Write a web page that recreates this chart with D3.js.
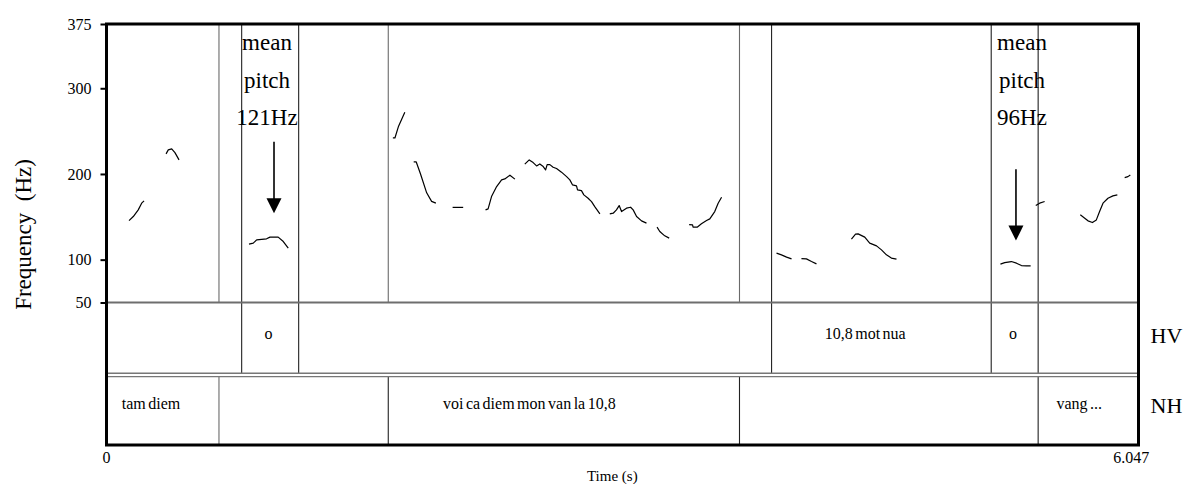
<!DOCTYPE html>
<html>
<head>
<meta charset="utf-8">
<script src="https://cdn.jsdelivr.net/npm/d3@7"></script>
<style>
  html, body { margin: 0; padding: 0; background: #fff; }
  svg { display: block; }
</style>
</head>
<body>
<svg id="chart" width="1187" height="484"></svg>
<script>
// ---------------- DATA ----------------
const timeDomain = [0, 6.047];
const freqDomain = [50, 375];
const freqTicks = [50, 100, 200, 300, 375];
const timeTickLabels = ["0", "6.047"];

// pitch contour fragments: [time (s), F0 (Hz)]
const contour1 = [[0.132,145.6],[0.157,150.3],[0.186,158.1],[0.206,165.9],[0.220,168.6]];
const contour2 = [[0.349,223.4],[0.362,228.1],[0.382,229.2],[0.401,224.9],[0.425,216.4]];
const contour3 = [[0.835,118.1],[0.860,119.3],[0.880,123.1],[0.938,124.3],[0.958,126.3],[1.006,126.3],[1.036,121.1],[1.065,113.4]];
const contour4 = [[1.678,242],[1.690,242],[1.710,255],[1.748,272]];
const contour5 = [[1.800,214],[1.815,214],[1.840,200],[1.876,178],[1.905,168],[1.930,166]];
const contour6 = [[2.028,161],[2.090,161]];
const contour7 = [[2.221,158.1],[2.236,159.3],[2.256,173.6],[2.286,185.3],[2.315,193.1],[2.334,194.2],[2.364,198.6],[2.393,194.0]];
const contour8 = [[2.451,211.4],[2.477,216.4],[2.500,213.3],[2.520,209.4],[2.539,211.7],[2.559,208.6],[2.573,204.7],[2.582,210.9],[2.598,210.9],[2.617,207.9],[2.637,206.3],[2.666,202.1],[2.696,196.9],[2.715,193.1],[2.731,187.2],[2.754,186.1],[2.760,181.4],[2.783,180.6],[2.797,175.6],[2.822,171.7],[2.842,167.8],[2.861,161.9],[2.891,153.4]];
const contour9 = [[2.949,153.4],[2.969,154.2],[2.988,158.1],[3.004,163.1],[3.018,156.1],[3.047,160.1],[3.071,161.2],[3.086,158.1],[3.106,150.3],[3.135,145.3],[3.164,142.6]];
const contour10 = [[3.226,137.9],[3.242,132.8],[3.271,127.8],[3.297,125.1]];
const contour11 = [[3.414,140.9],[3.434,140.6],[3.437,137.9],[3.461,137.9],[3.486,141.8],[3.516,145.6],[3.535,147.6],[3.564,156.1],[3.584,165.9],[3.604,172.9]];
const contour12 = [[3.926,107.6],[3.955,105.6],[3.985,102.9],[4.014,100.9]];
const contour13 = [[4.072,101.3],[4.101,100.9],[4.131,97.8],[4.160,95.1]];
const contour14 = [[4.365,123.9],[4.389,129.7],[4.404,130.1],[4.443,126.3],[4.472,119.3],[4.512,116.1],[4.541,111.4],[4.570,105.6],[4.599,101.8],[4.629,100.6]];
const contour15 = [[5.238,94.8],[5.263,96.6],[5.302,97.8],[5.332,95.9],[5.361,93.1],[5.390,92.8],[5.415,92.8]];
const contour16 = [[5.445,163.1],[5.468,165.9],[5.497,167.8]];
const contour17 = [[5.706,152.3],[5.732,148.4],[5.751,145.3],[5.777,143.3],[5.800,146.4],[5.819,156.1],[5.839,165.9],[5.868,171.7],[5.897,174.4],[5.923,175.6]];
const contour18 = [[5.966,195.8],[5.985,196.9],[5.999,198.9]];
const contours = [contour1, contour2, contour3, contour4, contour5, contour6, contour7, contour8, contour9,
                  contour10, contour11, contour12, contour13, contour14, contour15, contour16, contour17, contour18];

// annotation tiers (interval boundaries in s, and one label per interval)
const hvTierName = "HV";
const hvBounds = [0, 0.792, 1.126, 3.897, 5.184, 5.459, 6.047];
const hvLabels = ["", "o", "", "10,8 mot nua", "o", ""];
const nhTierName = "NH";
const nhBounds = [0, 0.659, 1.651, 3.709, 5.459, 6.047];
const nhLabels = ["tam diem", "", "voi ca diem mon van la 10,8", "", "vang ..."];

// mean-pitch call-outs
const calloutTimes = [0.9405, 5.3645];
const calloutLines = [["mean", "pitch", "121Hz"], ["mean", "pitch", "96Hz"]];
const arrowTimes = [0.9815, 5.329];
const arrowFromHz = [237.7, 205.6];
const arrowToHz = [154.2, 122.3];

const yTitle = "Frequency  (Hz)";
const xTitle = "Time (s)";

// ---------------- LAYOUT ----------------
const FONT = "'Liberation Serif', 'DejaVu Serif', serif";
const L = 106.5, R = 1138.5, T = 24, P = 302.5, HVB = 373.3, NHT = 376.6, B = 445;
const svg = d3.select("#chart").attr("font-family", FONT).style("font-family", FONT);

const x = d3.scaleLinear().domain(timeDomain).range([L, R]);
const y = d3.scaleLinear().domain(freqDomain).range([P, T]);

function txt(parent) {
  return parent.append("text").style("font-family", FONT).attr("fill", "#000");
}

// inner boundaries
const hvInner = hvBounds.slice(1, -1);
const nhInner = nhBounds.slice(1, -1);
const allInner = Array.from(new Set(hvInner.concat(nhInner))).sort((a, b) => a - b);

// boundaries in pitch area
svg.append("g").selectAll("line").data(allInner).join("line")
  .attr("x1", d => x(d)).attr("x2", d => x(d))
  .attr("y1", T).attr("y2", P)
  .attr("stroke", d => nhInner.includes(d) && !hvInner.includes(d) ? "#6a6a6a" : "#222")
  .attr("stroke-width", 1.1);

// HV tier boundaries
svg.append("g").selectAll("line").data(hvInner).join("line")
  .attr("x1", d => x(d)).attr("x2", d => x(d))
  .attr("y1", P).attr("y2", HVB)
  .attr("stroke", "#222").attr("stroke-width", 1.1);

// NH tier boundaries
svg.append("g").selectAll("line").data(nhInner).join("line")
  .attr("x1", d => x(d)).attr("x2", d => x(d))
  .attr("y1", NHT).attr("y2", B)
  .attr("stroke", d => d === nhInner[0] ? "#6a6a6a" : "#222")
  .attr("stroke-width", 1.1);

// horizontal separators
svg.append("line").attr("x1", L).attr("x2", R).attr("y1", P).attr("y2", P)
  .attr("stroke", "#6e6e6e").attr("stroke-width", 2);
svg.append("line").attr("x1", L).attr("x2", R).attr("y1", HVB).attr("y2", HVB)
  .attr("stroke", "#777").attr("stroke-width", 1.4);
svg.append("line").attr("x1", L).attr("x2", R).attr("y1", NHT).attr("y2", NHT)
  .attr("stroke", "#777").attr("stroke-width", 1.4);

// pitch contours
const line = d3.line().x(d => x(d[0])).y(d => y(d[1]));
svg.append("g").selectAll("path").data(contours).join("path")
  .attr("d", line)
  .attr("fill", "none").attr("stroke", "#000").attr("stroke-width", 1.2)
  .attr("stroke-linejoin", "round");

// frame
svg.append("rect").attr("x", L).attr("y", T).attr("width", R - L).attr("height", B - T)
  .attr("fill", "none").attr("stroke", "#000").attr("stroke-width", 3);

// y axis
const yAxis = svg.append("g").attr("transform", `translate(${L},0)`)
  .call(d3.axisLeft(y).tickValues(freqTicks).tickSize(6).tickPadding(9).tickFormat(d3.format("d")));
yAxis.attr("font-family", null).attr("font-size", null);
yAxis.select(".domain").remove();
yAxis.selectAll(".tick line").attr("stroke", "#000").attr("stroke-width", 2);
yAxis.selectAll(".tick text").style("font-family", FONT).style("font-size", "16px").attr("fill", "#000");

// helper: label placed slightly left of centre (as in the reference rendering)
function shiftedLabel(sel, cx) {
  sel.attr("text-anchor", "start");
  const w = sel.node().getComputedTextLength();
  sel.attr("x", cx - 0.7 * w);
}

// tier labels
hvLabels.forEach((lab, i) => {
  if (!lab) return;
  const cx = (x(hvBounds[i]) + x(hvBounds[i + 1])) / 2;
  const t = txt(svg).attr("y", 339).style("font-size", "16px")
    .style("word-spacing", "-1.5px").text(lab);
  shiftedLabel(t, cx);
});
nhLabels.forEach((lab, i) => {
  if (!lab) return;
  const cx = (x(nhBounds[i]) + x(nhBounds[i + 1])) / 2;
  const t = txt(svg).attr("y", 409).style("font-size", "16px")
    .style("word-spacing", "-1.5px").text(lab);
  shiftedLabel(t, cx);
});
txt(svg).attr("x", R + 12).attr("y", 343).style("font-size", "22px").text(hvTierName);
txt(svg).attr("x", R + 12).attr("y", 413).style("font-size", "22px").text(nhTierName);

// time labels
txt(svg).attr("x", x(timeDomain[0])).attr("y", 463).attr("text-anchor", "middle")
  .style("font-size", "16px").text(timeTickLabels[0]);
const endLab = txt(svg).attr("y", 463).style("font-size", "16px").text(timeTickLabels[1]);
shiftedLabel(endLab, x(timeDomain[1]));
const xt = txt(svg).attr("y", 481).style("font-size", "15px").text(xTitle);
shiftedLabel(xt, (L + R) / 2);

// y title
txt(svg).attr("transform", `translate(31,${(T + B) / 2}) rotate(-90)`)
  .attr("text-anchor", "middle").style("font-size", "23px").style("white-space", "pre").text(yTitle);

// call-outs
calloutTimes.forEach((t, i) => {
  calloutLines[i].forEach((s, j) => {
    txt(svg).attr("x", x(t)).attr("y", T + 26 + j * 37.5)
      .attr("text-anchor", "middle").style("font-size", "23px").text(s);
  });
  const ax = x(arrowTimes[i]), y1 = y(arrowFromHz[i]), y2 = y(arrowToHz[i]);
  svg.append("line").attr("x1", ax).attr("x2", ax).attr("y1", y1).attr("y2", y2 - 12)
    .attr("stroke", "#000").attr("stroke-width", 1.6);
  svg.append("path")
    .attr("d", `M${ax - 7.5},${y2 - 15} L${ax + 7.5},${y2 - 15} L${ax},${y2} Z`)
    .attr("fill", "#000");
});
</script>
</body>
</html>
